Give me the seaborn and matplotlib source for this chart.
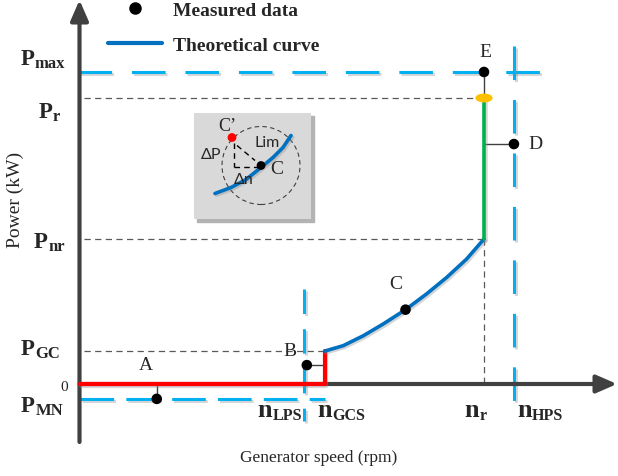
import matplotlib
matplotlib.use('Agg')
import matplotlib.pyplot as plt
import matplotlib.patheffects as pe
from matplotlib.patches import Circle, Ellipse, Rectangle, FancyArrowPatch
from matplotlib.lines import Line2D
import seaborn as sns

sns.set_theme(style='white')
plt.rcParams['font.family'] = ['Liberation Serif', 'DejaVu Serif']

# ---------------- data (normalised: speed / n_r, power / P_r) ----------------
speed_names = ['LPS', 'GCS', 'r', 'HPS']
speed_values = [0.556, 0.606, 1.000, 1.074]
power_names = ['max', 'r', 'nr', 'GC', 'MN']
power_values = [1.091, 1.000, 0.507, 0.115, -0.052]

curve_speed = [0.606, 0.652, 0.702, 0.751, 0.806, 0.858, 0.908, 0.957, 1.000]
curve_power = [0.115, 0.134, 0.169, 0.210, 0.260, 0.315, 0.373, 0.437, 0.507]

point_names = ['A', 'B', 'C', 'D', 'E']
point_speed = [0.191, 0.562, 0.806, 1.074, 1.000]
point_power = [-0.052, 0.066, 0.260, 0.839, 1.091]

# inset: local view around point C (offsets in speed / power)
inset_dn = [-46, -30, -15, 0, 12, 22, 30]
inset_dp = [-28, -22, -14, -2, 8, 18, 30]
inset_c = (0, 0)
inset_cprime = (-29, 28)
inset_radius = 39

n_lps, n_gcs, n_r, n_hps = speed_values
p_max, p_r, p_nr, p_gc, p_mn = power_values

# ---------------- layout helpers ----------------
W, H = 618, 477
def X(px):
    return (px - 79.5) / 404.5
def Y(py):
    return (385 - py) / 286

BLUE = '#0070C0'
LBLUE = '#00B0F0'
RED = '#FF0000'
GREEN = '#00B050'
AXC = '#404040'
SERIF = 'Liberation Serif'

shadow = [pe.SimpleLineShadow(offset=(1.2, -1.2), shadow_color='#8c8c8c', alpha=0.35), pe.Normal()]

fig = plt.figure(figsize=(W / 100, H / 100), dpi=100)
ax = fig.add_axes([0, 0, 1, 1])
ax.set_xlim(X(0), X(W))
ax.set_ylim(Y(H), Y(0))
ax.axis('off')

# axes arrows
for (a, b) in [((X(79.5), Y(443)), (X(79.5), Y(1))), ((X(79.5), 0), (X(617), 0))]:
    ax.add_patch(FancyArrowPatch(a, b, arrowstyle='-|>,head_length=0.62,head_width=0.27',
                                 mutation_scale=20, lw=3, color=AXC, shrinkA=0, shrinkB=0,
                                 zorder=2))

# thin grey dashed guides
gkw = dict(color='#595959', lw=0.9, dashes=(5, 3.5), zorder=1.5)
ax.plot([X(84), n_r], [p_r, p_r], **gkw)
ax.plot([X(84), n_r], [p_nr, p_nr], **gkw)
ax.plot([X(84), n_gcs], [p_gc, p_gc], **gkw)
ax.plot([n_r, n_r], [p_nr, 0], **gkw)

# light blue dashed limits
bkw = dict(color=LBLUE, lw=2.2, dashes=(11, 6.5), zorder=1.8, path_effects=shadow)
ax.plot([X(78), X(545)], [p_max, p_max], **bkw)
ax.plot([n_hps, n_hps], [Y(47), Y(405)], **bkw)
ax.plot([n_lps, n_lps], [Y(290), Y(422)], **dict(bkw, dashes=(8, 5)))
ax.plot([X(80), X(325)], [p_mn, p_mn], **dict(bkw, dashes=(11, 4)))

# connectors from measured points
ckw = dict(color='#404040', lw=1.0, zorder=3)
ax.plot([point_speed[0]] * 2, [point_power[0], 0], **ckw)
ax.plot([point_speed[1], n_gcs], [point_power[1]] * 2, **ckw)
ax.plot([n_r, point_speed[3]], [point_power[3]] * 2, **ckw)
ax.plot([point_speed[4]] * 2, [point_power[4], p_r], **ckw)

# characteristic curve segments
sns.lineplot(x=[0, n_gcs, n_gcs], y=[0, 0, p_gc], sort=False, estimator=None, ax=ax,
             color=RED, lw=3.0, zorder=4, path_effects=shadow)
sns.lineplot(x=curve_speed, y=curve_power, sort=False, estimator=None, ax=ax,
             color=BLUE, lw=2.6, zorder=4, path_effects=shadow)
sns.lineplot(x=[n_r, n_r], y=[p_nr, p_r], sort=False, estimator=None, ax=ax,
             color=GREEN, lw=2.6, zorder=4, path_effects=shadow)
ax.add_patch(Ellipse((n_r, p_r), 15.7 / 404.5, 7.5 / 286, color='#FFC000', zorder=4.5))

# measured points
sns.scatterplot(x=point_speed, y=point_power, ax=ax, color='black', s=58,
                edgecolor='none', zorder=6, legend=False)

# point labels
lab_pos = {'A': (146, 366), 'B': (290, 352), 'C': (396, 285), 'D': (535, 145), 'E': (485, 53)}
for nm in point_names:
    px, py = lab_pos[nm]
    ax.text(X(px), Y(py), nm, fontsize=14, family=SERIF, ha='center', va='center', zorder=7)

# subscripted tick labels
def sublabel(px, py, main, sub, size, subsize):
    t = ax.text(X(px), Y(py), main, fontsize=size, fontweight='bold', family=SERIF,
                ha='left', va='baseline', zorder=7)
    ax.annotate(sub, xy=(1, 0), xycoords=t, xytext=(0.3, 1.5), textcoords='offset points',
                fontsize=subsize, fontweight='bold', family=SERIF, ha='left', va='baseline')

p_lab_pos = {'max': (20.5, 65), 'r': (38.5, 118.5), 'nr': (34, 248), 'GC': (20.5, 355), 'MN': (21, 412)}
for nm in power_names:
    px, py = p_lab_pos[nm]
    sublabel(px, py, 'P', nm, 16.5, 12)
n_lab_pos = {'LPS': (257.5, 417), 'GCS': (317.5, 417), 'r': (464.5, 417), 'HPS': (517, 417)}
for nm in speed_names:
    px, py = n_lab_pos[nm]
    sublabel(px, py, 'n', nm, 19, 11.5)
ax.text(X(64.5), 0 - 3 / 286, '0', fontsize=11, family=SERIF, ha='center', va='center')

# axis titles
ax.text(X(15), Y(200), 'Power (kW)', rotation=90, fontsize=14, family=SERIF,
        ha='center', va='center')
ax.text(X(319), Y(458), 'Generator speed (rpm)', fontsize=12.5, family=SERIF,
        ha='center', va='center')

# legend
handles = [Line2D([], [], marker='o', color='black', ls='none', markersize=8),
           Line2D([], [], color=BLUE, lw=3)]
leg = ax.legend(handles, ['Measured data', 'Theoretical curve'], loc='upper left',
                bbox_to_anchor=(108 / W, 1 - 2 / H), bbox_transform=fig.transFigure,
                frameon=False, borderpad=0, borderaxespad=0, handlelength=2.78,
                handletextpad=0.55, labelspacing=0.92,
                prop={'family': SERIF, 'weight': 'bold', 'size': 14})

# inset box with shadow
bx0, by0, bw, bh = 194, 114, 117, 106
ax.add_patch(Rectangle((X(bx0 + 2.5), Y(by0 + bh + 2.5)), bw / 404.5, bh / 286,
                       color='#b3b3b3', zorder=4.8))
axin = ax.inset_axes([X(bx0), Y(by0 + bh), bw / 404.5, bh / 286], transform=ax.transData,
                     zorder=5)
axin.set_facecolor('#d9d9d9')
axin.set_xlim(bx0 - 261, bx0 + bw - 261)
axin.set_ylim(166.5 - (by0 + bh), 166.5 - by0)
axin.set_xticks([])
axin.set_yticks([])
for s in axin.spines.values():
    s.set_visible(False)
axin.add_patch(Circle(inset_c, inset_radius, fill=False, ec='#404040', lw=0.8,
                      ls=(0, (4, 3))))
sns.lineplot(x=inset_dn, y=inset_dp, sort=False, estimator=None, ax=axin,
             color=BLUE, lw=2.6, path_effects=shadow)
dkw = dict(color='black', lw=1.0, dashes=(4, 3))
axin.plot([inset_cprime[0] + 1.5, inset_cprime[0] + 1.5], [inset_cprime[1] - 5, -1.8], **dkw)
axin.plot([inset_cprime[0] + 1.5, inset_c[0] - 1], [-1.8, -1.8], **dkw)
axin.plot([inset_cprime[0] + 5, inset_c[0] - 6], [inset_cprime[1] - 8, inset_c[1] + 5], **dkw)
sns.scatterplot(x=[inset_c[0]], y=[inset_c[1]], ax=axin, color='black', s=40,
                edgecolor='none', zorder=6, legend=False)
sns.scatterplot(x=[inset_cprime[0]], y=[inset_cprime[1]], ax=axin, color=RED, s=40,
                edgecolor='none', zorder=6, legend=False)
axin.set_xlabel('')
axin.set_ylabel('')
SANS = ['Lato', 'DejaVu Sans']
axin.text(-34, 39.8, 'C\u2019', fontsize=13, family=SERIF, ha='center', va='center')
axin.text(15.7, -3.5, 'C', fontsize=14, family=SERIF, ha='center', va='center')
axin.text(5.7, 23.2, 'Lim', fontsize=11.5, family=SANS, ha='center', va='center')
axin.text(-50.3, 11.5, '\u0394P', fontsize=11.5, family=SANS, ha='center', va='center')
axin.text(-17.7, -13.5, '\u0394n', fontsize=11.5, family=SANS, ha='center', va='center')

ax.set_xlabel('')
ax.set_ylabel('')
fig.savefig('out.png', dpi=100)
